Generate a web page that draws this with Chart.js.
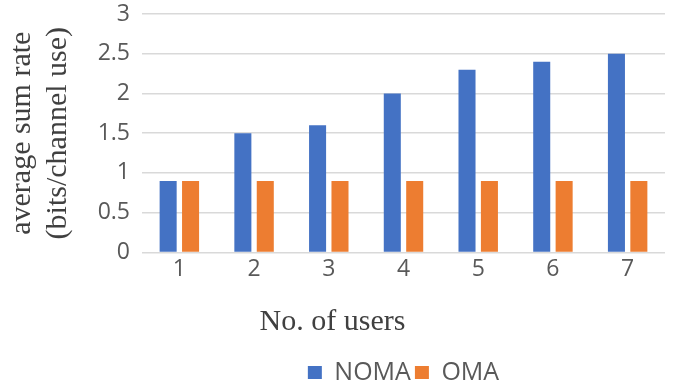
<!DOCTYPE html>
<html>
<head>
<meta charset="utf-8">
<script src="https://cdn.jsdelivr.net/npm/chart.js@4/dist/chart.umd.min.js"></script>
<style>
  html, body { margin: 0; padding: 0; background: #fff; }
  #wrap { width: 677px; height: 385px; }
</style>
</head>
<body>
<div id="wrap"><canvas id="rateChart" width="677" height="385"></canvas></div>
<script>
// Data
const users = ['1', '2', '3', '4', '5', '6', '7'];
const nomaRate = [0.9, 1.5, 1.6, 2.0, 2.3, 2.4, 2.5];
const omaRate = [0.9, 0.9, 0.9, 0.9, 0.9, 0.9, 0.9];

const NOMA_COLOR = '#4472C4';
const OMA_COLOR = '#ED7D31';

const ctx = document.getElementById('rateChart');

new Chart(ctx, {
  type: 'bar',
  data: {
    labels: users,
    datasets: [
      {
        label: 'NOMA',
        data: nomaRate,
        backgroundColor: NOMA_COLOR,
        categoryPercentage: 0.6,
        barPercentage: 0.76
      },
      {
        label: 'OMA',
        data: omaRate,
        backgroundColor: OMA_COLOR,
        categoryPercentage: 0.6,
        barPercentage: 0.76
      }
    ]
  },
  options: {
    responsive: false,
    animation: false,
    layout: { padding: { top: 14, right: 12, bottom: -10, left: 0 } },
    plugins: {
      legend: {
        position: 'bottom',
        fullSize: false,
        weight: 1000,
        labels: {
          boxWidth: 14,
          boxHeight: 13,
          color: '#595959',
          font: { family: 'Open Sans', size: 25 },
          padding: 4
        }
      },
      title: {
        display: true,
        position: 'bottom',
        weight: 500,
        text: 'No. of users',
        color: '#404040',
        font: { family: 'Liberation Serif', size: 30, weight: 'normal' },
        padding: { top: 18, bottom: 16 }
      },
      tooltip: { enabled: false }
    },
    scales: {
      x: {
        grid: { display: false, drawTicks: false },
        border: { display: false },
        ticks: {
          color: '#595959',
          font: { family: 'Open Sans', size: 23 },
          padding: 3
        }
      },
      y: {
        min: 0,
        max: 3,
        afterFit(scale) {
          scale.width = 142;
          scale.paddingTop = 0;
          scale.paddingBottom = 0;
        },
        grid: { color: '#D9D9D9', lineWidth: 1.5, drawTicks: false },
        border: { display: false },
        ticks: {
          stepSize: 0.5,
          color: '#595959',
          font: { family: 'Open Sans', size: 23 },
          padding: 12,
          callback: v => String(v)
        },
        title: {
          display: true,
          text: ['average sum rate', '(bits/channel use)'],
          color: '#404040',
          font: { family: 'Liberation Serif', size: 30 },
          padding: { top: 4, bottom: 0 }
        }
      }
    }
  }
});
</script>
</body>
</html>
